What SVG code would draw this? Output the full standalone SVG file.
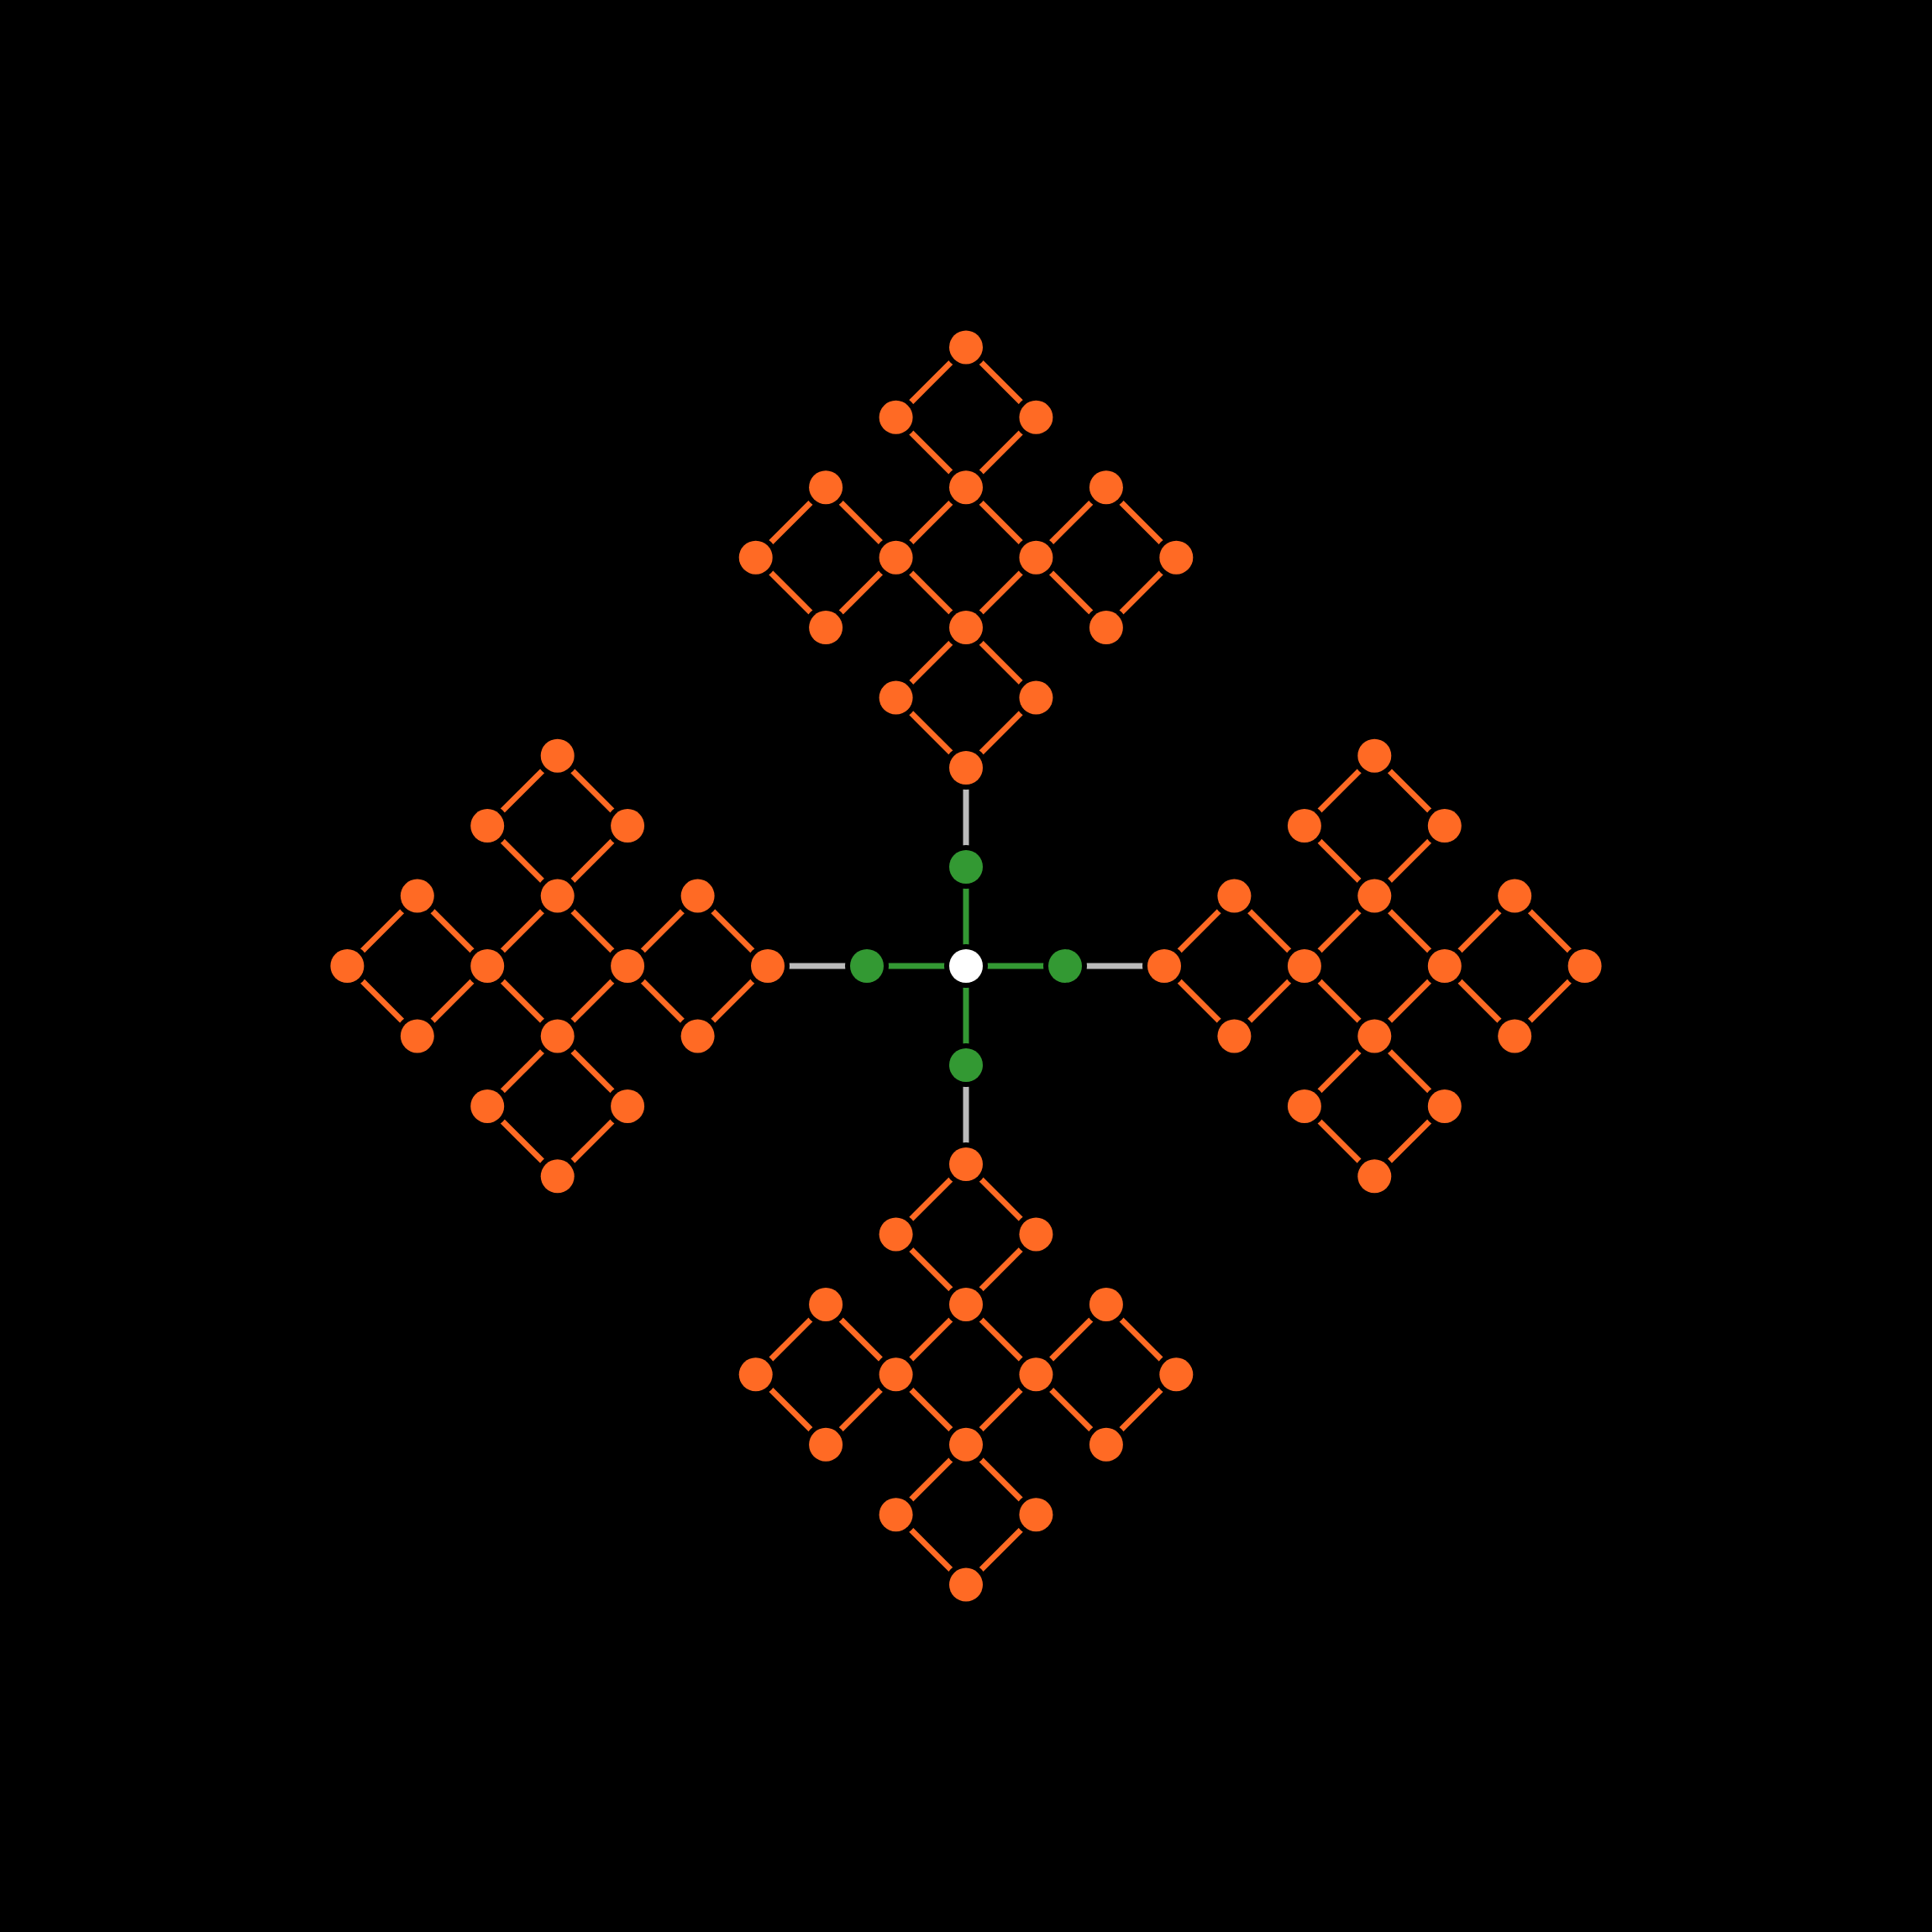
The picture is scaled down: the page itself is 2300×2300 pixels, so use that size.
<svg xmlns="http://www.w3.org/2000/svg" width="2300" height="2300" viewBox="0 0 2300 2300">
<style>
.e{stroke-width:7;stroke-linecap:butt;fill:none}
.o{stroke:#ff6a24}
.g{stroke:#339933}
.s{stroke:#bbbbbb}
circle{stroke:#000;stroke-width:12;paint-order:stroke}
.no circle{fill:#ff6a24}
.ng circle{fill:#339933}
.nw circle{fill:#ffffff}
</style>
<rect width="2300" height="2300" fill="#000"/>
<g id="connectors" class="e">
<g class="g">
<line x1="1150" y1="1150" x2="1150" y2="1032"/>
<line x1="1150" y1="1150" x2="1150" y2="1268"/>
<line x1="1150" y1="1150" x2="1032" y2="1150"/>
<line x1="1150" y1="1150" x2="1268" y2="1150"/>
</g>
<g class="s">
<line x1="1150" y1="1032" x2="1150" y2="914"/>
<line x1="1150" y1="1268" x2="1150" y2="1386"/>
<line x1="1032" y1="1150" x2="914" y2="1150"/>
<line x1="1268" y1="1150" x2="1386" y2="1150"/>
</g>
<g class="o">
<!-- top -->
<line x1="1150" y1="914" x2="1066.6" y2="830.6"/>
<line x1="1150" y1="914" x2="1233.4" y2="830.6"/>
<line x1="1066.6" y1="830.6" x2="1150" y2="747.1"/>
<line x1="1233.4" y1="830.6" x2="1150" y2="747.1"/>
<line x1="1150" y1="747.1" x2="1066.6" y2="663.7"/>
<line x1="1150" y1="747.1" x2="1233.4" y2="663.7"/>
<line x1="1066.6" y1="663.7" x2="1150" y2="580.2"/>
<line x1="1233.4" y1="663.7" x2="1150" y2="580.2"/>
<line x1="1066.6" y1="663.7" x2="983.1" y2="747.1"/>
<line x1="1066.6" y1="663.7" x2="983.1" y2="580.2"/>
<line x1="983.1" y1="747.1" x2="899.7" y2="663.7"/>
<line x1="983.1" y1="580.2" x2="899.7" y2="663.7"/>
<line x1="1233.4" y1="663.7" x2="1316.9" y2="747.1"/>
<line x1="1233.4" y1="663.7" x2="1316.9" y2="580.2"/>
<line x1="1316.9" y1="747.1" x2="1400.3" y2="663.7"/>
<line x1="1316.9" y1="580.2" x2="1400.3" y2="663.7"/>
<line x1="1150" y1="580.2" x2="1066.6" y2="496.8"/>
<line x1="1150" y1="580.2" x2="1233.4" y2="496.8"/>
<line x1="1066.6" y1="496.8" x2="1150" y2="413.4"/>
<line x1="1233.4" y1="496.8" x2="1150" y2="413.4"/>
<!-- bottom -->
<line x1="1150" y1="1386" x2="1066.6" y2="1469.4"/>
<line x1="1150" y1="1386" x2="1233.4" y2="1469.4"/>
<line x1="1066.6" y1="1469.4" x2="1150" y2="1552.9"/>
<line x1="1233.4" y1="1469.4" x2="1150" y2="1552.9"/>
<line x1="1150" y1="1552.9" x2="1066.6" y2="1636.3"/>
<line x1="1150" y1="1552.9" x2="1233.4" y2="1636.3"/>
<line x1="1066.6" y1="1636.3" x2="1150" y2="1719.8"/>
<line x1="1233.4" y1="1636.3" x2="1150" y2="1719.8"/>
<line x1="1066.6" y1="1636.3" x2="983.1" y2="1552.9"/>
<line x1="1066.6" y1="1636.3" x2="983.1" y2="1719.8"/>
<line x1="983.1" y1="1552.9" x2="899.7" y2="1636.3"/>
<line x1="983.1" y1="1719.8" x2="899.7" y2="1636.3"/>
<line x1="1233.4" y1="1636.3" x2="1316.9" y2="1552.9"/>
<line x1="1233.4" y1="1636.3" x2="1316.9" y2="1719.8"/>
<line x1="1316.9" y1="1552.9" x2="1400.3" y2="1636.3"/>
<line x1="1316.9" y1="1719.8" x2="1400.3" y2="1636.3"/>
<line x1="1150" y1="1719.8" x2="1066.6" y2="1803.2"/>
<line x1="1150" y1="1719.8" x2="1233.4" y2="1803.2"/>
<line x1="1066.6" y1="1803.2" x2="1150" y2="1886.6"/>
<line x1="1233.4" y1="1803.2" x2="1150" y2="1886.6"/>
<!-- left -->
<line x1="914" y1="1150" x2="830.6" y2="1066.6"/>
<line x1="914" y1="1150" x2="830.6" y2="1233.4"/>
<line x1="830.6" y1="1066.6" x2="747.1" y2="1150"/>
<line x1="830.6" y1="1233.4" x2="747.1" y2="1150"/>
<line x1="747.1" y1="1150" x2="663.7" y2="1066.6"/>
<line x1="747.1" y1="1150" x2="663.7" y2="1233.4"/>
<line x1="663.7" y1="1066.6" x2="580.2" y2="1150"/>
<line x1="663.7" y1="1233.4" x2="580.2" y2="1150"/>
<line x1="663.7" y1="1066.6" x2="747.1" y2="983.1"/>
<line x1="663.7" y1="1066.6" x2="580.2" y2="983.1"/>
<line x1="747.1" y1="983.1" x2="663.7" y2="899.7"/>
<line x1="580.2" y1="983.1" x2="663.7" y2="899.7"/>
<line x1="663.7" y1="1233.4" x2="747.1" y2="1316.9"/>
<line x1="663.7" y1="1233.4" x2="580.2" y2="1316.9"/>
<line x1="747.1" y1="1316.9" x2="663.7" y2="1400.3"/>
<line x1="580.2" y1="1316.9" x2="663.7" y2="1400.3"/>
<line x1="580.2" y1="1150" x2="496.8" y2="1066.6"/>
<line x1="580.2" y1="1150" x2="496.8" y2="1233.4"/>
<line x1="496.8" y1="1066.6" x2="413.4" y2="1150"/>
<line x1="496.8" y1="1233.4" x2="413.4" y2="1150"/>
<!-- right -->
<line x1="1386" y1="1150" x2="1469.4" y2="1066.6"/>
<line x1="1386" y1="1150" x2="1469.4" y2="1233.4"/>
<line x1="1469.4" y1="1066.6" x2="1552.9" y2="1150"/>
<line x1="1469.4" y1="1233.4" x2="1552.9" y2="1150"/>
<line x1="1552.9" y1="1150" x2="1636.3" y2="1066.6"/>
<line x1="1552.9" y1="1150" x2="1636.3" y2="1233.4"/>
<line x1="1636.3" y1="1066.6" x2="1719.8" y2="1150"/>
<line x1="1636.3" y1="1233.4" x2="1719.8" y2="1150"/>
<line x1="1636.3" y1="1066.6" x2="1552.9" y2="983.1"/>
<line x1="1636.3" y1="1066.6" x2="1719.8" y2="983.1"/>
<line x1="1552.9" y1="983.1" x2="1636.3" y2="899.7"/>
<line x1="1719.8" y1="983.1" x2="1636.3" y2="899.7"/>
<line x1="1636.3" y1="1233.4" x2="1552.9" y2="1316.9"/>
<line x1="1636.3" y1="1233.4" x2="1719.8" y2="1316.9"/>
<line x1="1552.9" y1="1316.9" x2="1636.3" y2="1400.3"/>
<line x1="1719.8" y1="1316.9" x2="1636.3" y2="1400.3"/>
<line x1="1719.8" y1="1150" x2="1803.2" y2="1066.6"/>
<line x1="1719.8" y1="1150" x2="1803.2" y2="1233.4"/>
<line x1="1803.2" y1="1066.6" x2="1886.6" y2="1150"/>
<line x1="1803.2" y1="1233.4" x2="1886.6" y2="1150"/>
</g>
</g>
<g id="nodes">
<g id="center" class="nw"><circle cx="1150" cy="1150" r="20"/></g>
<g class="ng">
<g id="g-top"><circle cx="1150" cy="1032" r="20"/></g>
<g id="g-bottom"><circle cx="1150" cy="1268" r="20"/></g>
<g id="g-left"><circle cx="1032" cy="1150" r="20"/></g>
<g id="g-right"><circle cx="1268" cy="1150" r="20"/></g>
</g>
<g class="no">
<g id="T0"><circle cx="1150" cy="914" r="20"/></g>
<g id="T1"><circle cx="1066.6" cy="830.6" r="20"/></g>
<g id="T2"><circle cx="1233.4" cy="830.6" r="20"/></g>
<g id="T3"><circle cx="1150" cy="747.1" r="20"/></g>
<g id="T4"><circle cx="1066.6" cy="663.7" r="20"/></g>
<g id="T5"><circle cx="1233.4" cy="663.7" r="20"/></g>
<g id="T6"><circle cx="983.1" cy="747.1" r="20"/></g>
<g id="T7"><circle cx="1316.9" cy="747.1" r="20"/></g>
<g id="T8"><circle cx="899.7" cy="663.7" r="20"/></g>
<g id="T9"><circle cx="1400.3" cy="663.7" r="20"/></g>
<g id="T10"><circle cx="983.1" cy="580.2" r="20"/></g>
<g id="T11"><circle cx="1316.9" cy="580.2" r="20"/></g>
<g id="T12"><circle cx="1150" cy="580.2" r="20"/></g>
<g id="T13"><circle cx="1066.6" cy="496.8" r="20"/></g>
<g id="T14"><circle cx="1233.4" cy="496.8" r="20"/></g>
<g id="T15"><circle cx="1150" cy="413.4" r="20"/></g>
<g id="B0"><circle cx="1150" cy="1386" r="20"/></g>
<g id="B1"><circle cx="1066.6" cy="1469.4" r="20"/></g>
<g id="B2"><circle cx="1233.4" cy="1469.4" r="20"/></g>
<g id="B3"><circle cx="1150" cy="1552.9" r="20"/></g>
<g id="B4"><circle cx="1066.6" cy="1636.3" r="20"/></g>
<g id="B5"><circle cx="1233.4" cy="1636.3" r="20"/></g>
<g id="B6"><circle cx="983.1" cy="1552.9" r="20"/></g>
<g id="B7"><circle cx="1316.9" cy="1552.9" r="20"/></g>
<g id="B8"><circle cx="899.7" cy="1636.3" r="20"/></g>
<g id="B9"><circle cx="1400.3" cy="1636.3" r="20"/></g>
<g id="B10"><circle cx="983.1" cy="1719.8" r="20"/></g>
<g id="B11"><circle cx="1316.9" cy="1719.8" r="20"/></g>
<g id="B12"><circle cx="1150" cy="1719.8" r="20"/></g>
<g id="B13"><circle cx="1066.6" cy="1803.2" r="20"/></g>
<g id="B14"><circle cx="1233.4" cy="1803.2" r="20"/></g>
<g id="B15"><circle cx="1150" cy="1886.6" r="20"/></g>
<g id="L0"><circle cx="914" cy="1150" r="20"/></g>
<g id="L1"><circle cx="830.6" cy="1066.6" r="20"/></g>
<g id="L2"><circle cx="830.6" cy="1233.4" r="20"/></g>
<g id="L3"><circle cx="747.1" cy="1150" r="20"/></g>
<g id="L4"><circle cx="663.7" cy="1066.6" r="20"/></g>
<g id="L5"><circle cx="663.7" cy="1233.4" r="20"/></g>
<g id="L6"><circle cx="747.1" cy="983.1" r="20"/></g>
<g id="L7"><circle cx="747.1" cy="1316.9" r="20"/></g>
<g id="L8"><circle cx="663.7" cy="899.7" r="20"/></g>
<g id="L9"><circle cx="663.7" cy="1400.3" r="20"/></g>
<g id="L10"><circle cx="580.2" cy="983.1" r="20"/></g>
<g id="L11"><circle cx="580.2" cy="1316.9" r="20"/></g>
<g id="L12"><circle cx="580.2" cy="1150" r="20"/></g>
<g id="L13"><circle cx="496.8" cy="1066.6" r="20"/></g>
<g id="L14"><circle cx="496.8" cy="1233.4" r="20"/></g>
<g id="L15"><circle cx="413.4" cy="1150" r="20"/></g>
<g id="R0"><circle cx="1386" cy="1150" r="20"/></g>
<g id="R1"><circle cx="1469.4" cy="1066.6" r="20"/></g>
<g id="R2"><circle cx="1469.4" cy="1233.4" r="20"/></g>
<g id="R3"><circle cx="1552.9" cy="1150" r="20"/></g>
<g id="R4"><circle cx="1636.3" cy="1066.6" r="20"/></g>
<g id="R5"><circle cx="1636.3" cy="1233.4" r="20"/></g>
<g id="R6"><circle cx="1552.9" cy="983.1" r="20"/></g>
<g id="R7"><circle cx="1552.9" cy="1316.9" r="20"/></g>
<g id="R8"><circle cx="1636.3" cy="899.7" r="20"/></g>
<g id="R9"><circle cx="1636.3" cy="1400.3" r="20"/></g>
<g id="R10"><circle cx="1719.8" cy="983.1" r="20"/></g>
<g id="R11"><circle cx="1719.8" cy="1316.9" r="20"/></g>
<g id="R12"><circle cx="1719.8" cy="1150" r="20"/></g>
<g id="R13"><circle cx="1803.2" cy="1066.6" r="20"/></g>
<g id="R14"><circle cx="1803.2" cy="1233.4" r="20"/></g>
<g id="R15"><circle cx="1886.6" cy="1150" r="20"/></g>
</g>
</g>
</svg>
